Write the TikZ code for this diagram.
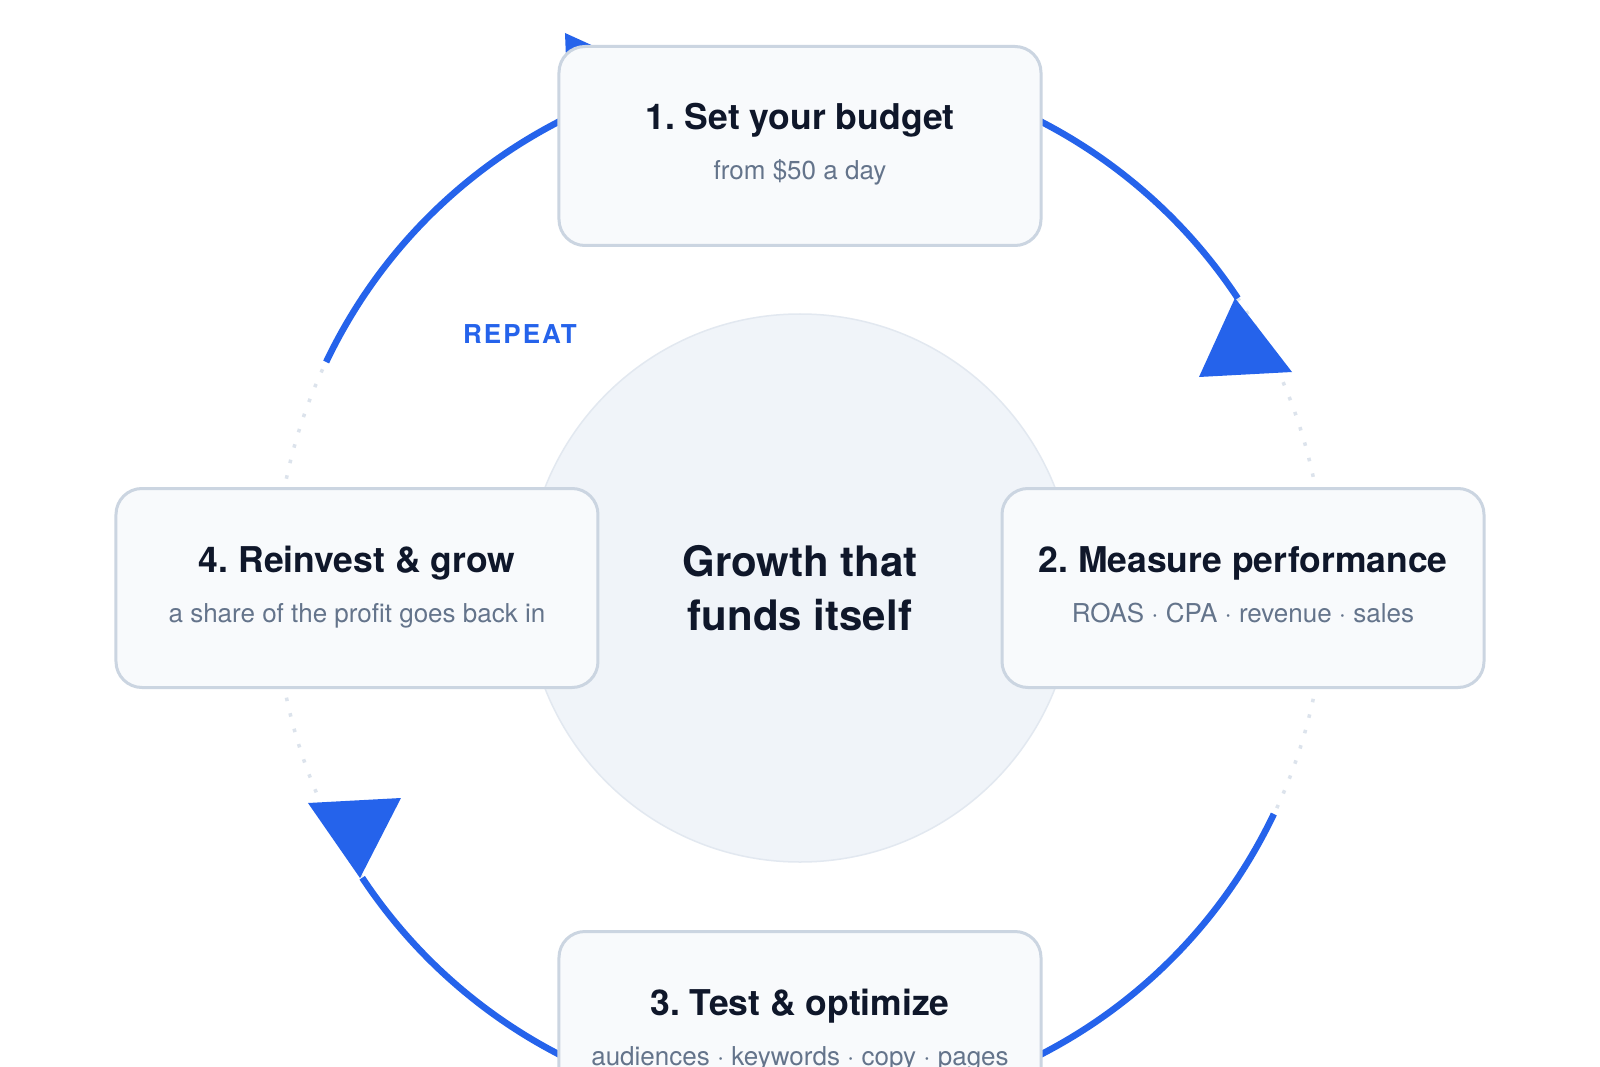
\documentclass[tikz,border=0pt]{standalone}
\usepackage{fontspec}
\setmainfont{TeX Gyre Heros}
\usetikzlibrary{positioning}
\frenchspacing

\definecolor{loopblue}{HTML}{2563EB}
\definecolor{inkdark}{HTML}{0F172A}
\definecolor{inkmuted}{HTML}{64748B}
\definecolor{boxfill}{HTML}{F8FAFC}
\definecolor{boxline}{HTML}{CBD5E1}
\definecolor{hubfill}{HTML}{F0F4F9}
\definecolor{hubline}{HTML}{E2E8F0}
\definecolor{dotgray}{HTML}{DCE3EC}

\tikzset{
  stepbox/.style={draw=boxline, line width=3pt, fill=boxfill, rounded corners=26pt,
    minimum width=482pt, minimum height=199pt},
  steptitle/.style={anchor=base, text=inkdark, font=\fontsize{35.5}{40}\selectfont\bfseries},
  stepnote/.style={anchor=base, text=inkmuted, font=\fontsize{26}{30}\selectfont},
  hubtext/.style={anchor=base, text=inkdark, font=\fontsize{42}{48}\selectfont\bfseries},
  looparc/.style={draw=loopblue, line width=6.5pt},
  looptip/.style={fill=loopblue},
}

\begin{document}
\begin{tikzpicture}[x=1pt, y=1pt]
		\clip (-800,-478) rectangle (800,588);
		\fill[white] (-800,-478) rectangle (800,588);
		
		%dotted ring
		\draw[dotgray, line width=3.5pt, dash pattern=on 3.5pt off 12.5pt] (0,0) circle (525);
		
		%solid loop arcs
		\draw[looparc] (154.5:525) arc[start angle=154.5, end angle=33.5, radius=525];
		\draw[looparc] (-25.5:525) arc[start angle=-25.5, end angle=-146.5, radius=525];
		\fill[looptip] (435,290) -- (492,216) -- (399,211) -- cycle;
		\fill[looptip] (-440,-290) -- (-492,-215) -- (-399,-210) -- cycle;
		\fill[looptip] (-235,555) -- (-180,530) -- (-233,505) -- cycle;
		
		%hub
		\node[circle, draw=hubline, line width=1.5pt, fill=hubfill, minimum size=548pt] (hub) at (0,0) {};
		\node[hubtext] (hubtop) at ([yshift=12pt]hub.center) {Growth that};
		\node[hubtext] (hubbot) at ([yshift=-42pt]hub.center) {funds itself};
		
		%steps
		\node[stepbox] (budget) at (0,442) {};
		\node[stepbox] (measure) at (443,0) {};
		\node[stepbox] (optimize) at (0,-443) {};
		\node[stepbox] (reinvest) at (-443,0) {};
		
		\foreach \stepname/\head/\note in {
			budget/{1. Set your budget}/{from \$50 a day},
			measure/{2. Measure performance}/{ROAS · CPA · revenue · sales},
			optimize/{3. Test \& optimize}/{audiences · keywords · copy · pages},
			reinvest/{4. Reinvest \& grow}/{a share of the profit goes back in}}{
			\node[steptitle] at ([yshift=16pt]\stepname.center) {\head};
			\node[stepnote] at ([yshift=-34pt]\stepname.center) {\note};
		}
		
		\node[text=loopblue, font=\fontsize{26}{30}\selectfont\bfseries\addfontfeature{LetterSpace=8}] (repeat) at (-280,254) {REPEAT};
\end{tikzpicture}
\end{document}
